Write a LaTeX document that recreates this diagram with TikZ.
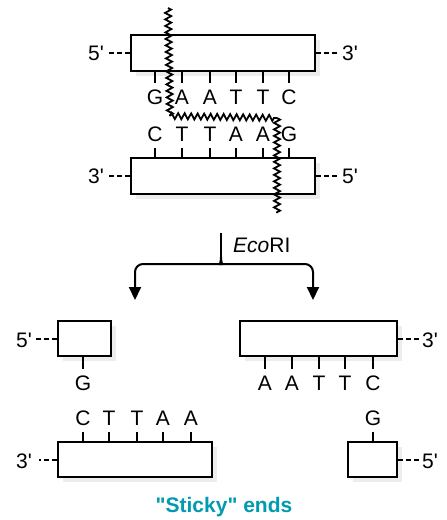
\documentclass[tikz,border=0pt]{standalone}
\usepackage{fontspec}
\setmainfont{Liberation Sans}
\usetikzlibrary{arrows.meta,decorations.pathmorphing,shadows}
\definecolor{stickyteal}{RGB}{0,155,175}
\newcommand{\pr}{\textquotesingle}
\tikzset{
  strand/.style={draw, line width=2pt, fill=white, inner sep=0pt,
    drop shadow={shadow xshift=5pt, shadow yshift=-5pt, fill=black!7, opacity=1}},
  base/.style={inner sep=0pt, text height=15pt, text depth=0pt},
  endlabel/.style={inner sep=0pt},
  tick/.style={line width=1.1pt, shorten >=6pt},
  endline/.style={line width=2pt, dash pattern=on 5pt off 3pt},
  cut/.style={line width=1.8pt, decorate,
    decoration={zigzag, segment length=6.5pt, amplitude=3pt}},
  flowline/.style={line width=2pt},
}
\begin{document}
\begin{tikzpicture}[x=1pt, y=-1pt, font=\fontsize{21}{24}\selectfont]
\useasboundingbox (0,0) rectangle (447,520);
\fill[white] (0,0) rectangle (447,520);

% ---- intact double strand ----
\node[strand, minimum width=184pt, minimum height=36pt] (top) at (223,53) {};
\node[strand, minimum width=184pt, minimum height=36pt] (bot) at (223,176) {};

\node[endlabel] (tl) at (96,53) {5\pr};
\node[endlabel] (tr) at (350,53) {3\pr};
\node[endlabel] (bl) at (96,176) {3\pr};
\node[endlabel] (br) at (350,176) {5\pr};
\draw[endline] (top.west) -- ++(-21,0);
\draw[endline] (top.east) -- ++(21,0);
\draw[endline] (bot.west) -- ++(-21,0);
\draw[endline] (bot.east) -- ++(21,0);

% top strand bases
\foreach \n/\x/\b in {a1/155/G, a2/182/A, a3/210/A, a4/236/T, a5/263/T, a6/289/C}{
  \node[base] (\n) at (\x,97) {\b};
  \draw[tick] (\n |- top.south) -- (\n.north);
}
% bottom strand bases
\foreach \n/\x/\b in {b1/155/C, b2/182/T, b3/210/T, b4/236/A, b5/263/A, b6/289/G}{
  \node[base] (\n) at (\x,134) {\b};
  \draw[tick] (\n |- bot.north) -- (\n.south);
}

% cleavage line
\coordinate (z1) at (168,8);
\coordinate (z2) at (170,116);
\coordinate (z3) at (277,118);
\coordinate (z4) at (277,213);
\draw[cut] (z1) -- (z2);
\draw[cut] (z2) -- (z3);
\draw[cut] (z3) -- (z4);

% ---- enzyme step ----
\coordinate (stem) at (221,233);
\coordinate (fork) at (221,257);
\coordinate (lt) at (135,300);
\coordinate (rt) at (313,300);
\draw[flowline] (stem) -- (fork);
\draw[flowline, -{Triangle[width=12pt,length=13pt]}, rounded corners=8pt]
  (fork) .. controls (221,263) and (219,264) .. (213,264) -- (135,264) -- (lt);
\draw[flowline, -{Triangle[width=12pt,length=13pt]}, rounded corners=8pt]
  (fork) .. controls (221,263) and (223,264) .. (229,264) -- (313,264) -- (rt);
\node[anchor=west, inner sep=0pt] (enz) at (233,245) {\textit{Eco}RI};

% ---- fragments ----
\node[strand, minimum width=53pt, minimum height=35pt] (l1) at (84.5,338.5) {};
\node[strand, minimum width=157pt, minimum height=35pt] (r1) at (318.5,338.5) {};
\node[strand, minimum width=154pt, minimum height=35pt] (l2) at (135,459.5) {};
\node[strand, minimum width=49pt, minimum height=35pt] (r2) at (372.5,459.5) {};

\node[endlabel] (l1e) at (24,340) {5\pr};
\node[endlabel] (r1e) at (430,340) {3\pr};
\node[endlabel] (l2e) at (24,461) {3\pr};
\node[endlabel] (r2e) at (430,461) {5\pr};
\draw[endline] (l1.west) -- ++(-21,0);
\draw[endline] (r1.east) -- ++(21,0);
\draw[endline] (l2.west) -- ++(-18,0);
\draw[endline] (r2.east) -- ++(21,0);

\node[base] (c1) at (83,383) {G};
\draw[tick] (c1 |- l1.south) -- (c1.north);
\foreach \n/\x/\b in {d1/265/A, d2/292/A, d3/319/T, d4/345/T, d5/373/C}{
  \node[base] (\n) at (\x,383) {\b};
  \draw[tick] (\n |- r1.south) -- (\n.north);
}
\foreach \n/\x/\b in {e1/83/C, e2/109/T, e3/137/T, e4/163/A, e5/191/A}{
  \node[base] (\n) at (\x,418) {\b};
  \draw[tick] (\n |- l2.north) -- (\n.south);
}
\node[base] (f1) at (373,418) {G};
\draw[tick] (f1 |- r2.north) -- (f1.south);

\node[text=stickyteal, font=\fontsize{21}{24}\selectfont\bfseries] (sticky) at (224,507) {\textquotedbl Sticky\textquotedbl{} ends};
\end{tikzpicture}
\end{document}
